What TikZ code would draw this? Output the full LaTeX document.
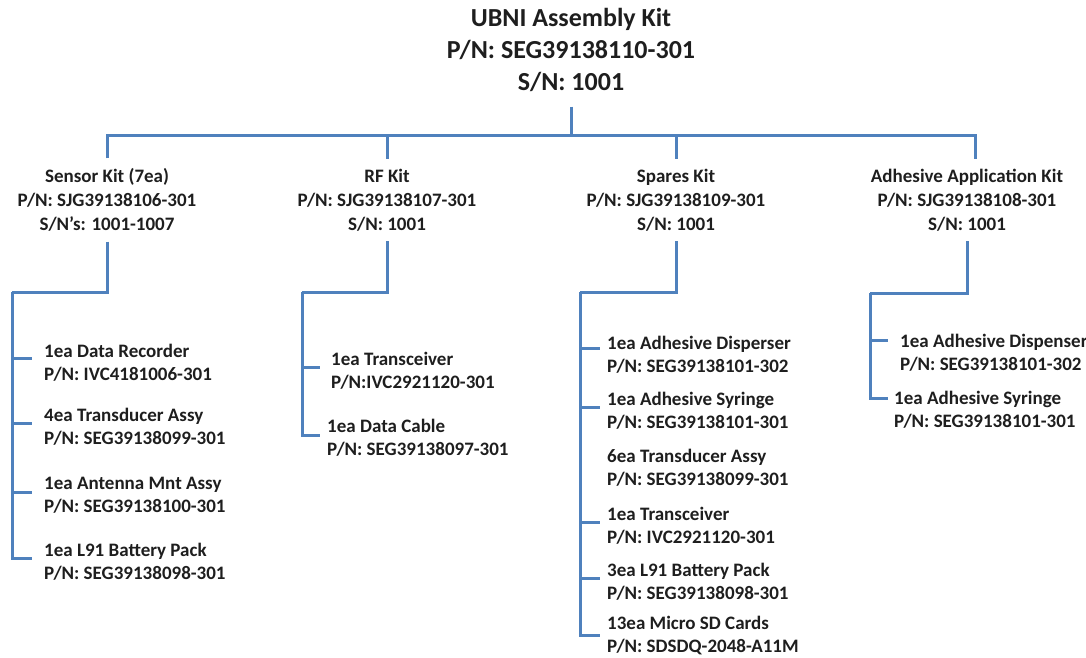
\documentclass[tikz,border=0pt]{standalone}
\usepackage{fontspec}
\setmainfont{Carlito}
\definecolor{lineblue}{RGB}{79,129,189}
\definecolor{txt}{RGB}{30,30,30}
\begin{document}
\begin{tikzpicture}[x=1pt,y=-1pt,
  conn/.style={draw=lineblue, line width=3pt},
  roottxt/.style={align=center, font=\bfseries\fontsize{26}{32}\selectfont, text=txt, inner sep=0pt, outer ysep=15pt},
  kittxt/.style={align=center, font=\bfseries\fontsize{19}{24}\selectfont, text=txt, inner xsep=0pt, inner ysep=10pt},
  item/.style={align=left, anchor=west, font=\bfseries\fontsize{19}{23}\selectfont, text=txt, inner ysep=0pt, inner xsep=#1},
  item/.default=8pt]
\useasboundingbox (0,0) rectangle (1086,657);

% root
\node[roottxt] (root) at (571,50) {UBNI Assembly Kit\\P/N: SEG39138110-301\\S/N: 1001};
\coordinate (rj) at (571,135);

% kits
\node[kittxt] (sensor) at (107,200) {Sensor Kit (7ea)\\P/N: SJG39138106-301\\S/N's: 1001-1007};
\node[kittxt] (rf) at (387,200) {RF Kit\\P/N: SJG39138107-301\\S/N: 1001};
\node[kittxt] (spares) at (676,200) {Spares Kit\\P/N: SJG39138109-301\\S/N: 1001};
\node[kittxt] (adh) at (967,200) {Adhesive Application Kit\\P/N: SJG39138108-301\\S/N: 1001};

\draw[conn] (root.south) -- (rj);
\draw[conn] (sensor.north) |- (rj);
\draw[conn] (rf.north) |- (rj);
\draw[conn] (spares.north) |- (rj);
\draw[conn] ([xshift=8pt]adh.north) |- (rj);

% joints
\coordinate (sj) at (12,292);
\coordinate (rfj) at (302,292);
\coordinate (spj) at (580,292);
\coordinate (adj) at (870,293);

% sensor items
\node[item=12pt] (s1) at (32,362.5) {1ea Data Recorder\\P/N: IVC4181006-301};
\node[item=12pt] (s2) at (32,427) {4ea Transducer Assy\\P/N: SEG39138099-301};
\node[item=12pt] (s3) at (32,495) {1ea Antenna Mnt Assy\\P/N: SEG39138100-301};
\node[item=12pt] (s4) at (32,562) {1ea L91 Battery Pack\\P/N: SEG39138098-301};
\draw[conn] (sensor.south) |- (sj);
\draw[conn] (sj) |- ([yshift=4pt]s1.west);
\draw[conn] (sj) |- ([yshift=4pt]s2.west);
\draw[conn] (sj) |- ([yshift=3pt]s3.west);
\draw[conn] (sj) |- ([yshift=4pt]s4.west);

% RF items
\node[item=11pt] (r1) at (320,371) {1ea Transceiver\\P/N:IVC2921120-301};
\node[item=7pt] (r2) at (320,438) {1ea Data Cable\\P/N: SEG39138097-301};
\draw[conn] (rf.south) |- (rfj);
\draw[conn] (rfj) |- ([yshift=4pt]r1.west);
\draw[conn] (rfj) |- ([yshift=3pt]r2.west);

% spares items
\node[item=7pt] (p1) at (600,354.5) {1ea Adhesive Disperser\\P/N: SEG39138101-302};
\node[item=7pt] (p2) at (600,411) {1ea Adhesive Syringe\\P/N: SEG39138101-301};
\node[item=7pt] (p3) at (600,467.5) {6ea Transducer Assy\\P/N: SEG39138099-301};
\node[item=7pt] (p4) at (600,525.5) {1ea Transceiver\\P/N: IVC2921120-301};
\node[item=7pt] (p5) at (600,582) {3ea L91 Battery Pack\\P/N: SEG39138098-301};
\node[item=7pt] (p6) at (600,636) {13ea Micro SD Cards\\P/N: SDSDQ-2048-A11M};
\draw[conn] (spares.south) |- (spj);
\draw[conn] (spj) |- ([yshift=6pt]p1.west);
\draw[conn] (spj) |- ([yshift=4pt]p2.west);
\draw[conn] (spj) |- ([yshift=3pt]p4.west);
\draw[conn] (spj) |- ([yshift=4pt]p5.west);
\draw[conn] (spj) |- ([yshift=1pt]p6.west);

% adhesive items
\node[item=12pt] (a1) at (888,352.5) {1ea Adhesive Dispenser\\P/N: SEG39138101-302};
\node[item=6pt] (a2) at (888,409.5) {1ea Adhesive Syringe\\P/N: SEG39138101-301};
\draw[conn] (adh.south) |- (adj);
\draw[conn] (adj) |- ([yshift=12pt]a1.west);
\draw[conn] (adj) |- ([yshift=11pt]a2.west);
\end{tikzpicture}
\end{document}
